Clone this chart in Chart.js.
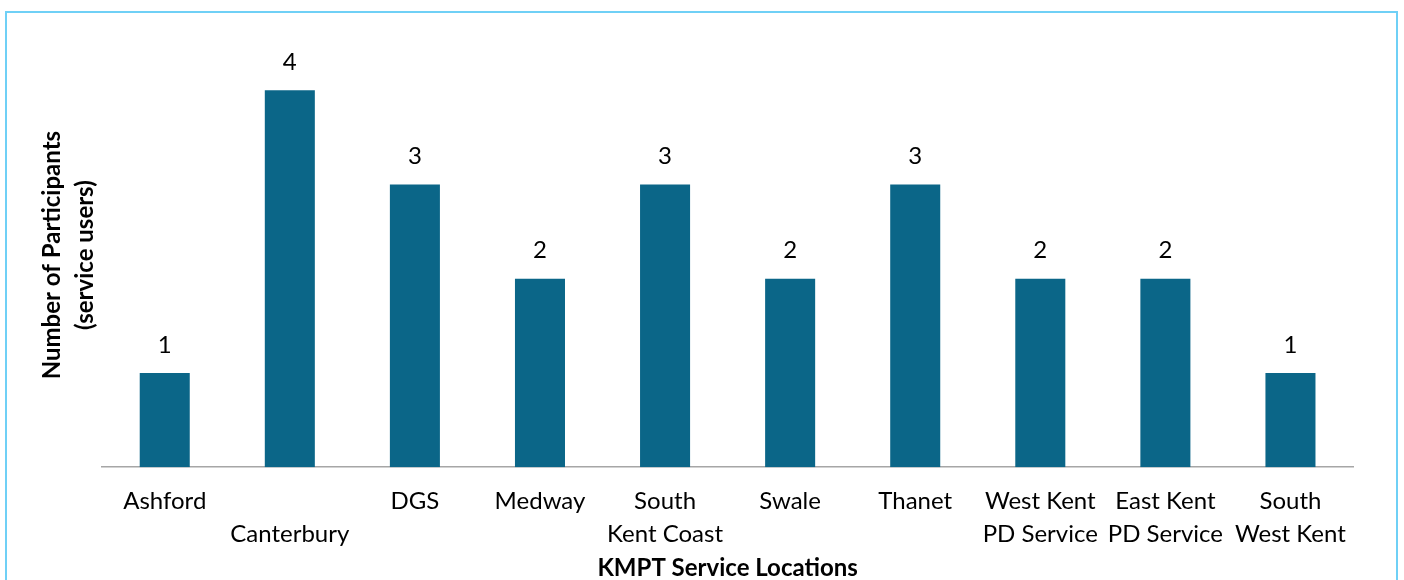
<!DOCTYPE html>
<html>
<head>
<meta charset="utf-8">
<script src="https://cdn.jsdelivr.net/npm/chart.js@4"></script>
<style>
  html, body { margin: 0; padding: 0; background: #fff; }
  .frame { position: absolute; left: 5px; top: 11px; width: 1393px; height: 600px; border: 2px solid #6fd0f6; box-sizing: border-box; }
  .wrap { position: absolute; left: 0; top: 0; width: 1404px; height: 580px; }
</style>
</head>
<body>
<div class="frame"></div>
<div class="wrap"><canvas id="chart"></canvas></div>
<script>
const locations = [
    ['Ashford'], ['', 'Canterbury'], ['DGS'], ['Medway'], ['South', 'Kent Coast'],
    ['Swale'], ['Thanet'], ['West Kent', 'PD Service'], ['East Kent', 'PD Service'], ['South', 'West Kent']
];
const participants = [1, 4, 3, 2, 3, 2, 3, 2, 2, 1];

const barColor = '#0b6688';
const fontName = 'Lato, Carlito, "Liberation Sans", sans-serif';

// etiquetas de valor encima de cada barra
const valueLabels = {
    id: 'valueLabels',
    afterDatasetsDraw(chart) {
        const ctx = chart.ctx;
        const meta = chart.getDatasetMeta(0);
        ctx.save();
        ctx.font = '24px ' + fontName;
        ctx.fillStyle = '#000';
        ctx.textAlign = 'center';
        ctx.textBaseline = 'middle';
        meta.data.forEach((bar, i) => {
            ctx.fillText(participants[i], bar.x, bar.y - 28);
        });
        ctx.restore();
    }
};

new Chart(document.getElementById('chart'), {
    type: 'bar',
    data: {
        labels: locations,
        datasets: [{
            data: participants,
            backgroundColor: barColor,
            borderWidth: 0,
            categoryPercentage: 1,
            barPercentage: 0.4
        }]
    },
    options: {
        responsive: true,
        maintainAspectRatio: false,
        animation: false,
        layout: { padding: { left: 35, right: 51, top: 43, bottom: 0 } },
        plugins: {
            legend: { display: false },
            tooltip: { enabled: false }
        },
        scales: {
            x: {
                grid: { display: false, drawTicks: false },
                border: { display: true, color: '#a6a6a6', width: 1.5 },
                ticks: {
                    color: '#000',
                    font: { family: fontName, size: 24, lineHeight: 1.35 },
                    maxRotation: 0,
                    autoSkip: false,
                    padding: 18
                },
                title: {
                    display: true,
                    text: 'KMPT Service Locations',
                    color: '#000',
                    font: { family: fontName, size: 24, weight: 'bold', lineHeight: 1.0 },
                    padding: { top: -12, bottom: 0 }
                }
            },
            y: {
                min: 0,
                max: 4.5,
                grid: { display: false, drawTicks: false },
                border: { display: false },
                ticks: { display: false },
                title: {
                    display: true,
                    text: ['Number of Participants', '(service users)'],
                    color: '#000',
                    font: { family: fontName, size: 24, weight: 'bold', lineHeight: 1.4 },
                    padding: { top: 0, bottom: 0 }
                }
            }
        }
    },
    plugins: [valueLabels]
});
</script>
</body>
</html>
